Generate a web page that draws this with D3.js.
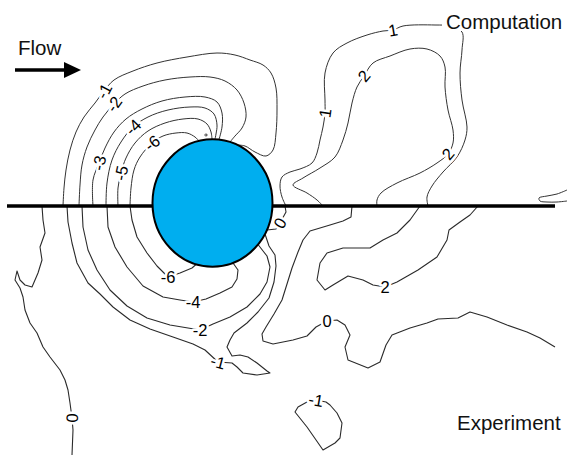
<!DOCTYPE html>
<html><head><meta charset="utf-8">
<script src="https://cdn.jsdelivr.net/npm/d3@7"></script>
<style>html,body{margin:0;padding:0;background:#fff;}svg{display:block;}</style>
</head><body>
<svg id="c" width="567" height="455"></svg>
<script>
// ---- data (flow-domain coordinates, cm; origin = cylinder axis on the symmetry plane) ----
const wallExtent = [-20.5, 34.3];
const cylinder = [0.05, 0.3, 6.0, 6.37]; // cx, cy, rx, ry

// Computation (upper half)
const compM1 = [[-14.9,0],[-14.8,1.8],[-14.6,3.6],[-14.2,5.6],[-13.6,7.4],[-12.8,8.9],[-11.7,10.3],[-10.8,11.5],[-9.8,12.6],[-7.9,13.5],[-5.5,14.3],[-2.5,14.9],[0.5,15.3],[2.3,15.1],[3.8,14.6],[5.1,14.1],[5.9,13.3],[6.4,11.8],[6.5,9.6],[6.4,7.3],[6.1,5.6],[5.4,5.0],[4.3,5.4],[3.3,6.0],[2.5,6.1]];
const compM2 = [[-13.3,0],[-13.2,2.1],[-13.0,4.1],[-12.5,5.9],[-11.7,7.6],[-10.9,8.9],[-9.8,10.2],[-8.7,11.2],[-6.9,12.0],[-4.7,12.6],[-2.2,12.9],[-0.2,12.9],[1.3,12.5],[2.5,11.6],[3.2,10.3],[3.4,8.9],[3.0,7.8],[2.3,7.0],[1.8,6.4]];
const compM3 = [[-11.9,0],[-11.9,2.6],[-11.3,4.3],[-10.7,5.8],[-9.8,7.4],[-8.6,8.7],[-7.0,9.7],[-5.0,10.5],[-2.7,10.9],[-0.7,10.9],[0.5,10.4],[1.0,9.3],[1.0,7.9],[0.7,6.65]];
const compM4 = [[-10.6,0],[-10.5,2.3],[-10.0,4.6],[-9.1,6.4],[-7.9,7.9],[-6.4,8.9],[-4.4,9.6],[-2.2,9.9],[-0.7,9.8],[0.2,9.2],[0.5,8.1],[0.4,7.2],[0.3,6.67]];
const compM5 = [[-9.4,0],[-9.4,1.8],[-9.1,3.3],[-8.6,4.8],[-7.7,6.3],[-6.4,7.5],[-4.7,8.3],[-2.9,8.7],[-1.4,8.7],[-0.5,8.2],[-0.1,7.4],[0,6.67]];
const compM6 = [[-8.2,0],[-8.1,1.8],[-7.8,3.6],[-7.2,4.9],[-6.0,6.3],[-4.9,7.0],[-3.6,7.3],[-2.5,7.3],[-1.7,6.9],[-1.3,6.5]];
const compDot = [[-0.75,7.1],[-0.6,7.2],[-0.45,7.1],[-0.6,7.0],[-0.75,7.1]];
const compP1 = [[7.4,0],[7.0,0.9],[6.8,2.0],[7.0,2.9],[7.8,3.4],[8.8,3.7],[10.0,4.3],[10.5,5.3],[10.8,6.6],[11.1,7.9],[11.3,9.3],[11.3,10.6],[11.3,13.3],[12.1,15.3],[13.5,16.3],[15.5,17.1],[17.1,17.5],[18.1,17.6],[19.1,18.0],[22.3,18.1],[23.8,18.0],[25.0,17.4],[25.0,15.6],[24.8,13.3],[25.0,10.6],[25.5,7.9],[25.3,6.6],[24.5,4.9],[23.1,3.4],[22.0,2.0],[21.5,0.9],[21.6,0]];
const compP2 = [[11.1,0],[10.5,0.6],[9.5,1.3],[8.1,2.1],[9.1,2.8],[10.8,3.8],[12.3,4.9],[13.1,6.6],[13.6,8.3],[14.0,10.3],[14.5,11.9],[15.2,13.0],[16.1,14.3],[17.8,15.0],[19.8,15.7],[21.5,15.7],[22.8,15.0],[23.3,13.9],[23.3,11.9],[23.6,9.6],[24.1,7.6],[24.1,6.3],[23.6,5.2],[22.5,4.3],[20.8,3.3],[18.5,2.3],[16.9,1.3],[16.5,0.6],[16.5,0]];
const compEdge = [[35.5,1.6],[34.5,1.2],[33.5,1.0],[32.7,0.8],[32.8,0.5],[33.5,0.4],[34.5,0.4],[35.5,0.5]];

// Experiment (lower half)
const expM6 = [[-8.2,0],[-8.0,-1.4],[-7.5,-3.1],[-6.5,-4.7],[-5.5,-6.0],[-4.4,-7.1],[-3.2,-6.7],[-2.0,-6.2],[-1.6,-5.85]];
const expM4 = [[-10.5,0],[-10.4,-2.1],[-9.7,-4.1],[-8.5,-6.1],[-6.9,-8.0],[-4.9,-9.1],[-3.2,-9.4],[-1.9,-9.6],[-0.6,-9.3],[0.8,-8.7],[2.0,-8.1],[2.5,-7.3],[2.6,-6.4],[2.1,-5.7]];
const expM2 = [[-13.0,0],[-12.9,-2.1],[-12.4,-4.4],[-11.5,-6.4],[-10.2,-8.4],[-8.5,-10.0],[-6.5,-11.2],[-4.2,-11.9],[-2.4,-12.2],[-1.2,-12.4],[0.1,-11.8],[1.8,-11.1],[3.5,-10.1],[4.8,-8.8],[5.5,-7.6],[5.8,-6.1],[5.5,-5.0],[4.6,-3.85]];
const expM1 = [[-14.5,0],[-14.4,-1.6],[-14.0,-3.7],[-13.5,-5.7],[-12.4,-7.7],[-11.2,-8.8],[-9.9,-10.1],[-8.2,-11.4],[-6.2,-12.3],[-3.9,-13.1],[-1.9,-13.8],[-0.7,-14.4],[0.6,-15.6],[2.0,-15.7],[2.5,-16.1],[3.1,-16.7],[4.5,-16.9],[5.8,-16.7],[5.5,-16.5],[4.5,-15.7],[3.6,-15.1],[2.8,-14.9],[2.0,-15.0],[1.5,-14.1],[1.8,-13.4],[2.2,-12.7],[3.5,-11.7],[4.6,-10.6],[5.7,-9.2],[6.2,-7.6],[6.4,-6.0],[6.3,-4.9],[5.7,-4.0],[5.3,-2.8]];
const expZeroNear = [[7.3,0],[7.4,-0.6],[6.8,-1.7],[6.4,-2.3],[5.5,-2.4]];
const expZeroLeft = [[-17.0,0],[-16.9,-1.4],[-16.7,-2.7],[-17.2,-4.1],[-17.0,-5.4],[-17.4,-6.7],[-18.0,-8.1],[-18.7,-7.9],[-19.2,-7.4],[-19.5,-6.5],[-19.7,-7.4],[-19.2,-8.2],[-18.9,-9.1],[-18.7,-10.4],[-18.2,-11.7],[-17.5,-12.7],[-16.9,-14.1],[-16.2,-15.1],[-15.2,-16.4],[-14.7,-17.4],[-14.4,-18.4],[-14.2,-19.7],[-14.0,-21.2],[-13.9,-22.4],[-14.0,-24.9]];
const expZeroRight = [[14.0,0],[13.9,-1.1],[13.1,-1.5],[11.8,-1.9],[9.8,-2.5],[9.1,-3.4],[8.6,-4.6],[8.0,-6.2],[7.5,-7.8],[7.0,-9.4],[6.2,-10.8],[5.4,-12.1],[5.0,-12.8],[5.1,-13.5],[6.1,-13.8],[8.1,-13.4],[9.5,-13.0],[10.4,-12.1],[11.5,-11.5],[12.5,-11.4],[13.3,-11.9],[13.8,-12.9],[13.3,-14.1],[13.6,-15.4],[15.6,-16.2],[16.8,-15.6],[17.4,-13.9],[18.0,-12.9],[19.8,-12.2],[21.5,-11.7],[22.6,-11.3],[24.6,-11.2],[25.8,-10.6],[27.5,-11.1],[29.5,-11.9],[31.5,-12.6],[32.8,-13.2],[34.3,-14.1]];
const expP2 = [[20.8,0],[19.8,-1.4],[18.5,-2.7],[17.1,-3.4],[15.8,-4.2],[13.1,-4.2],[11.5,-4.7],[10.8,-5.7],[10.5,-7.4],[11.3,-8.4],[12.1,-7.9],[13.6,-7.0],[15.1,-7.4],[16.1,-7.9],[17.3,-8.1],[18.5,-7.6],[20.6,-6.4],[22.5,-5.1],[23.5,-3.4],[23.7,-2.4],[24.8,-1.6],[25.8,-0.9],[26.6,0]];
const expM1Island = [[10.4,-19.4],[9.5,-19.6],[8.6,-20.1],[8.3,-20.6],[9.5,-22.1],[11.1,-24.4],[12.3,-23.7],[12.8,-23.2],[13.0,-21.7],[12.5,-20.7],[11.8,-19.9],[11.4,-19.6],[10.4,-19.4]];

// contour labels: text, x, y, rotation (deg)
const labelText  = ["-1","-2","-3","-4","-5","-6","1","1","2","2","-6","-4","-2","-1","0","0","0","2","-1"];
const labelX     = [-10.8,-9.8,-11.3,-7.9,-9.1,-6.0,11.3,18.1,15.2,23.6,-4.4,-1.9,-1.2,0.6,6.8,-14.0,11.5,17.3,10.4];
const labelY     = [11.5,10.2,4.3,7.9,3.3,6.3,9.3,17.6,13.0,5.2,-7.1,-9.6,-12.4,-15.6,-1.7,-21.2,-11.5,-8.1,-19.4];
const labelAngle = [-62,-55,-78,-45,-78,-38,-82,-10,-50,-50,0,0,0,15,-60,-88,0,0,10];

const smoothLines = [compM1, compM2, compM3, compM4, compM5, compM6, compP1, compP2, compEdge, compDot];
const roughLines  = [expM6, expM4, expM2, expM1, expZeroNear, expZeroLeft, expZeroRight, expP2, expM1Island];

// ---- drawing ----
const W = 567, H = 455;
const svg = d3.select("#c");
const x = d3.scaleLinear().domain([-21.2, 35.5]).range([0, W]);
const y = d3.scaleLinear().domain([20.6, -24.9]).range([0, H]);
const font = "'Liberation Sans', Arial, Helvetica, sans-serif";

const smooth = d3.line().x(d => x(d[0])).y(d => y(d[1])).curve(d3.curveCatmullRom.alpha(0.5));
const rough = d3.line().x(d => x(d[0])).y(d => y(d[1]));

const g = svg.append("g");
g.selectAll("path.s").data(smoothLines).enter().append("path")
  .attr("d", smooth).attr("fill", "none").attr("stroke", "#333").attr("stroke-width", 1);
g.selectAll("path.r").data(roughLines).enter().append("path")
  .attr("d", rough).attr("fill", "none").attr("stroke", "#2a2a2a").attr("stroke-width", 1.1)
  .attr("stroke-linejoin", "round");

// wall / symmetry line
svg.append("line")
  .attr("x1", x(wallExtent[0])).attr("x2", x(wallExtent[1]))
  .attr("y1", y(0)).attr("y2", y(0))
  .attr("stroke", "#000").attr("stroke-width", 3.5);

// cylinder
svg.append("ellipse")
  .attr("cx", x(cylinder[0])).attr("cy", y(cylinder[1]))
  .attr("rx", x(cylinder[0] + cylinder[2]) - x(cylinder[0]))
  .attr("ry", y(cylinder[1]) - y(cylinder[1] + cylinder[3]))
  .attr("fill", "#00aeef").attr("stroke", "#000").attr("stroke-width", 2);

// contour labels
svg.selectAll("text.lab").data(labelText).enter().append("text")
  .attr("transform", (d, i) => `translate(${x(labelX[i])},${y(labelY[i])}) rotate(${labelAngle[i]})`)
  .attr("text-anchor", "middle").attr("dy", "0.36em")
  .attr("font-family", font).attr("font-size", 16.5)
  .attr("fill", "#000").attr("stroke", "#fff").attr("stroke-width", 5)
  .attr("paint-order", "stroke").attr("stroke-linejoin", "round")
  .text(d => d);

// annotations
svg.append("rect").attr("x", 442).attr("y", 10).attr("width", 125).attr("height", 21).attr("fill", "#fff");
svg.append("text").attr("x", 446).attr("y", 29).attr("font-family", font).attr("font-size", 20.5)
  .attr("fill", "#111").text("Computation");
svg.append("text").attr("x", 457).attr("y", 430).attr("font-family", font).attr("font-size", 20.5)
  .attr("fill", "#111").text("Experiment");
svg.append("text").attr("x", 18).attr("y", 55).attr("font-family", font).attr("font-size", 20.5)
  .attr("fill", "#111").text("Flow");
svg.append("line").attr("x1", 15).attr("x2", 66).attr("y1", 70).attr("y2", 70)
  .attr("stroke", "#000").attr("stroke-width", 3.4);
svg.append("path").attr("d", "M64,62 L81,70 L64,78 Z").attr("fill", "#000");
</script>
</body></html>
